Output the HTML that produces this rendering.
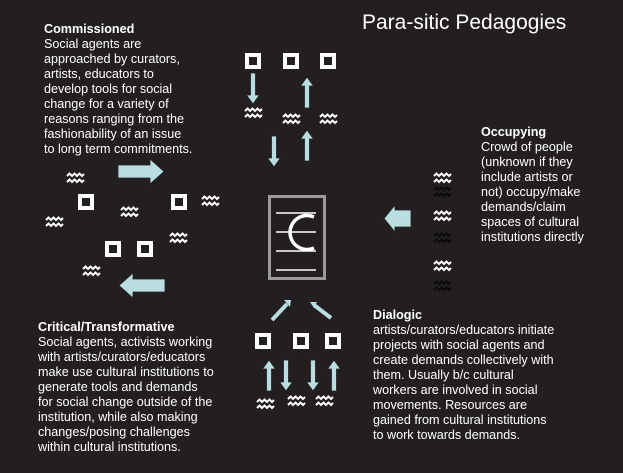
<!DOCTYPE html>
<html><head><meta charset="utf-8"><style>
html,body{margin:0;padding:0;background:#231f20;}
svg{display:block}
text{font-family:"Liberation Sans",Arial,sans-serif;fill:#fff;font-size:12.6px}
.b{font-weight:bold}
</style></head><body>
<svg width="623" height="473" viewBox="0 0 623 473" xmlns="http://www.w3.org/2000/svg">
<defs>
<g id="sq"><polyline points="0,4 2.5,1.5 5,4 7.5,1.5 10,4 12.5,1.5 15,4 17,2" fill="none" stroke-width="2"/><polyline points="0,10 2.5,7.5 5,10 7.5,7.5 10,10 12.5,7.5 15,10 17,8" fill="none" stroke-width="2"/></g>
<g id="box"><rect x="2" y="2" width="12" height="12" fill="none" stroke="#fff" stroke-width="4"/></g>
<g id="ad"><path d="M-2.5,0 h5 v22 h4 l-6.5,9 l-6.5,-9 h4 z" fill="#b9dde0" stroke="#222" stroke-width="0.8"/></g>
<g id="au"><path d="M-2.5,31 h5 v-22 h4 l-6.5,-9 l-6.5,9 h4 z" fill="#b9dde0" stroke="#222" stroke-width="0.8"/></g>
</defs>
<rect width="623" height="473" fill="#231f20"/>
<text x="362" y="29" style="font-size:21px;font-weight:300">Para-sitic Pedagogies</text>

<g>
<text x="44" y="33" class="b">Commissioned</text>
<text x="44" y="48">Social agents are</text>
<text x="44" y="63">approached by curators,</text>
<text x="44" y="78">artists, educators to</text>
<text x="44" y="93">develop tools for social</text>
<text x="44" y="108">change for a variety of</text>
<text x="44" y="123">reasons ranging from the</text>
<text x="44" y="138">fashionability of an issue</text>
<text x="44" y="153">to long term commitments.</text>
</g>

<g>
<text x="481" y="136" class="b">Occupying</text>
<text x="481" y="151">Crowd of people</text>
<text x="481" y="166">(unknown if they</text>
<text x="481" y="181">include artists or</text>
<text x="481" y="196">not) occupy/make</text>
<text x="481" y="211">demands/claim</text>
<text x="481" y="226">spaces of cultural</text>
<text x="481" y="241">institutions directly</text>
</g>

<g>
<text x="373" y="319" class="b">Dialogic</text>
<text x="373" y="334">artists/curators/educators initiate</text>
<text x="373" y="349">projects with social agents and</text>
<text x="373" y="364">create demands collectively with</text>
<text x="373" y="379">them. Usually b/c cultural</text>
<text x="373" y="394">workers are involved in social</text>
<text x="373" y="409">movements. Resources are</text>
<text x="373" y="424">gained from cultural institutions</text>
<text x="373" y="439">to work towards demands.</text>
</g>

<g>
<text x="38" y="331" class="b">Critical/Transformative</text>
<text x="38" y="346">Social agents, activists working</text>
<text x="38" y="361">with artists/curators/educators</text>
<text x="38" y="376">make use cultural institutions to</text>
<text x="38" y="391">generate tools and demands</text>
<text x="38" y="406">for social change outside of the</text>
<text x="38" y="421">institution, while also making</text>
<text x="38" y="436">changes/posing challenges</text>
<text x="38" y="451">within cultural institutions.</text>
</g>

<!-- center box -->
<rect x="269.5" y="196.5" width="55" height="82" fill="none" stroke="#9a9a9a" stroke-width="3"/>
<g stroke="#fff" stroke-width="1.6">
<line x1="276" y1="213" x2="316" y2="213"/>
<line x1="276" y1="232" x2="316" y2="232"/>
<line x1="276" y1="251" x2="316" y2="251"/>
<line x1="276" y1="270" x2="316" y2="270"/>
</g>
<path d="M314,217 A17,17 0 1 0 314,248" fill="none" stroke="#fff" stroke-width="3.5"/>

<!-- top group -->
<use href="#box" x="245" y="53"/><use href="#box" x="283" y="53"/><use href="#box" x="320" y="53"/>
<use href="#ad" x="253" y="73"/><use href="#au" x="307" y="77"/>
<g stroke="#fff"><use href="#sq" x="245" y="107"/><use href="#sq" x="283" y="113"/><use href="#sq" x="320" y="113"/></g>
<use href="#ad" x="274" y="136"/><use href="#au" x="307" y="130"/>

<!-- left group -->
<path d="M118,165 h32 v-6 l14,12.5 l-14,12.5 v-6 h-32 z" fill="#b9dde0" stroke="#222" stroke-width="0.8"/>
<path d="M165,279 h-32 v-6 l-14,12.5 l14,12.5 v-6 h32 z" fill="#b9dde0" stroke="#222" stroke-width="0.8"/>
<g stroke="#fff">
<use href="#sq" x="67" y="172"/><use href="#sq" x="46" y="216"/><use href="#sq" x="121" y="206"/>
<use href="#sq" x="202" y="195"/><use href="#sq" x="170" y="232"/><use href="#sq" x="83" y="265"/>
</g>
<use href="#box" x="78" y="194"/><use href="#box" x="171" y="194"/>
<use href="#box" x="105" y="241"/><use href="#box" x="137" y="241"/>

<!-- right group -->
<path d="M411,210 h-16 v-5 l-11,13.5 l11,13.5 v-5 h16 z" fill="#b9dde0" stroke="#222" stroke-width="0.8"/>
<g stroke="#fff"><use href="#sq" x="434" y="172"/><use href="#sq" x="434" y="210"/><use href="#sq" x="434" y="260"/></g>
<g stroke="#0b0b0b"><use href="#sq" x="434" y="186"/><use href="#sq" x="434" y="232"/><use href="#sq" x="434" y="280"/></g>

<!-- bottom group -->
<path d="M272,320 L287,304" stroke="#b9dde0" stroke-width="4"/>
<path d="M284,300 l7,0 l-1,7 z" fill="#b9dde0"/>
<path d="M331,318 L314,305" stroke="#b9dde0" stroke-width="4"/>
<path d="M310,302 l7,0 l-3,6 z" fill="#b9dde0"/>
<use href="#box" x="255" y="333"/><use href="#box" x="293" y="333"/><use href="#box" x="325" y="333"/>
<use href="#au" x="269" y="360"/><use href="#ad" x="286" y="360"/><use href="#ad" x="313" y="360"/><use href="#au" x="334" y="360"/>
<g stroke="#fff"><use href="#sq" x="257" y="398"/><use href="#sq" x="288" y="395"/><use href="#sq" x="316" y="395"/></g>
</svg>
</body></html>
